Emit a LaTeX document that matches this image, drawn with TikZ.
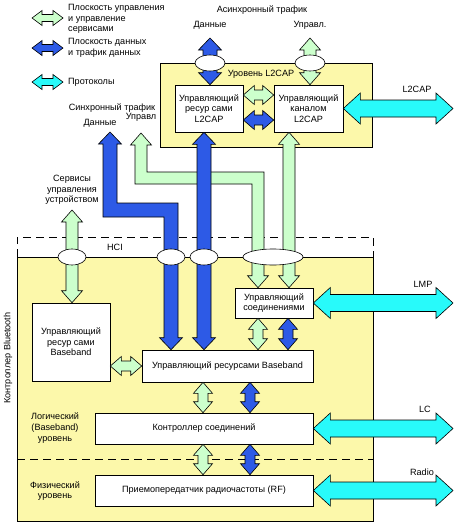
\documentclass[tikz,border=0pt]{standalone}
\usepackage{fontspec}
\setmainfont{Liberation Sans}
\usetikzlibrary{calc,shapes.geometric}

\definecolor{ctrlgreen}{RGB}{204,255,204}
\definecolor{datablue}{RGB}{45,90,230}
\definecolor{protocyan}{RGB}{40,250,250}
\definecolor{layeryellow}{RGB}{252,248,170}

\tikzset{
  fat size/.code args={#1/#2/#3}{\def\fatS{#1}\def\fatH{#2}\def\fatL{#3}},
  fat/.style={draw=black, line width=0.6pt, line join=miter, fat size=7/11.5/12},
  short/.style={fat size=5/9.5/11},
  tiny/.style={fat size=3.5/7.5/10},
  ctrl/.style={fill=ctrlgreen},
  data/.style={fill=datablue},
  proto/.style={fill=protocyan, fat size=8.5/15.5/17},
  box/.style={draw, fill=white, line width=0.6pt, align=center, inner sep=1pt},
  hole/.style={ellipse, draw, fill=white, line width=0.6pt, minimum width=30pt, minimum height=16pt, inner sep=0pt},
  layer/.style={draw, fill=layeryellow, line width=0.6pt},
  lbl/.style={align=center, inner sep=1pt},
  hci/.style={dash pattern=on 8pt off 5pt, line width=0.9pt}
}

% straight double block arrow between two points
\newcommand\fatarrow[3][]{%
  \path[fat,#1] let \p1=(#2), \p2=(#3),
      \n1={atan2(\y2-\y1,\x2-\x1)}, \n2={veclen(\x2-\x1,\y2-\y1)} in
    (\p1) -- ++($(\n1:{\fatL*1pt})+(\n1+90:{\fatH*1pt})$)
    -- ++(\n1-90:{(\fatH-\fatS)*1pt})
    -- ++(\n1:{(\n2-2*\fatL)*1pt})
    -- ++(\n1+90:{(\fatH-\fatS)*1pt})
    -- (\p2)
    -- ++($(\n1+180:{\fatL*1pt})+(\n1-90:{\fatH*1pt})$)
    -- ++(\n1+90:{(\fatH-\fatS)*1pt})
    -- ++(\n1+180:{(\n2-2*\fatL)*1pt})
    -- ++(\n1-90:{(\fatH-\fatS)*1pt})
    -- cycle;}

% down, right, down double block arrow
\newcommand\bentarrow[4][]{%
  \path[fat,#1] let \p1=(#2), \p2=(#3), \p3=(#4) in
    (\p1) -- (\x1+\fatH*1pt,\y1-\fatL*1pt) -- (\x1+\fatS*1pt,\y1-\fatL*1pt)
    -- (\x1+\fatS*1pt,\y2+\fatS*1pt) -- (\x2+\fatS*1pt,\y2+\fatS*1pt)
    -- (\x2+\fatS*1pt,\y3+\fatL*1pt) -- (\x2+\fatH*1pt,\y3+\fatL*1pt)
    -- (\p3)
    -- (\x2-\fatH*1pt,\y3+\fatL*1pt) -- (\x2-\fatS*1pt,\y3+\fatL*1pt)
    -- (\x2-\fatS*1pt,\y2-\fatS*1pt) -- (\x1-\fatS*1pt,\y2-\fatS*1pt)
    -- (\x1-\fatS*1pt,\y1-\fatL*1pt) -- (\x1-\fatH*1pt,\y1-\fatL*1pt)
    -- cycle;}

\begin{document}
\begin{tikzpicture}[x=1pt,y=-1pt,every node/.style={font=\fontsize{9.1}{10.6}\selectfont}]
  \useasboundingbox (0,0) rectangle (457,530);

  % layers
  \draw[layer] (160,63) rectangle (372,147);
  \draw[layer] (17,257) rectangle (373,521);
  \draw[hci] (17,257) -- (17,237) -- (373,237) -- (373,257);
  \draw[hci] (17,459) -- (373,459);

  % blocks
  \node[box, minimum width=68pt, minimum height=47pt] (lres) at (209,108.5) {Управляющий\\ресур сами\\L2CAP};
  \node[box, minimum width=69pt, minimum height=47pt] (lch) at (308.5,108.5) {Управляющий\\каналом\\L2CAP};
  \node[box, minimum width=78pt, minimum height=30pt] (cm) at (274,303) {Управляющий\\соединениями};
  \node[box, minimum width=78pt, minimum height=78pt] (brs) at (71,342) {Управляющий\\ресур сами\\Baseband};
  \node[box, minimum width=171pt, minimum height=32pt] (bb) at (227.5,366) {Управляющий ресурсами Baseband};
  \node[box, minimum width=218pt, minimum height=31pt] (lc) at (204,428.5) {Контроллер соединений};
  \node[box, minimum width=218pt, minimum height=31pt] (rf) at (204,490.5) {Приемопередатчик радиочастоты (RF)};

  % free ends
  \coordinate (atd) at (210,38);
  \coordinate (atc) at (310,38);
  \coordinate (std) at (110,132);
  \coordinate (stdbend) at (171,210);
  \coordinate (stc) at (141,133);
  \coordinate (stcbend) at (258,178);
  \coordinate (dev) at (72,210);
  \coordinate (l2capend) at (453,108.5);
  \coordinate (lmpend) at (453,303);
  \coordinate (lcend) at (453,428.5);
  \coordinate (radioend) at (453,490.5);
  \coordinate (leg1l) at (32,18);  \coordinate (leg1r) at (63,18);
  \coordinate (leg2l) at (32,48);  \coordinate (leg2r) at (63,48);
  \coordinate (leg3l) at (32,82);  \coordinate (leg3r) at (63,82);

  % traffic
  \bentarrow[ctrl,fat size=6/10.5/12]{stc}{stcbend}{stcbend |- cm.north};
  \bentarrow[data]{std}{stdbend}{stdbend |- bb.north};
  \fatarrow[data]{204,0 |- lres.south}{204,0 |- bb.north};
  \fatarrow[ctrl,fat size=6/10.5/12]{289,0 |- lch.south}{289,0 |- cm.north};
  \fatarrow[data]{atd}{atd |- lres.north};
  \fatarrow[ctrl,fat size=6/10.5/12]{atc}{atc |- lch.north};
  \fatarrow[ctrl,fat size=6/10.5/12]{dev}{dev |- brs.north};
  \fatarrow[ctrl,short]{lres.east |- 0,95}{lch.west |- 0,95};
  \fatarrow[data,short]{lres.east |- 0,120}{lch.west |- 0,120};
  \fatarrow[ctrl,short]{brs.east |- 0,366}{bb.west |- 0,366};
  \foreach \ax/\st in {258/ctrl,288/data}
    \fatarrow[\st,short]{\ax,0 |- cm.south}{\ax,0 |- bb.north};
  \foreach \ax/\st in {203/ctrl,250/data} {
    \fatarrow[\st,short]{\ax,0 |- bb.south}{\ax,0 |- lc.north};
    \fatarrow[\st,short]{\ax,0 |- lc.south}{\ax,0 |- rf.north};
  }

  % protocols
  \fatarrow[proto]{lch.east}{l2capend};
  \fatarrow[proto]{cm.east}{lmpend};
  \fatarrow[proto]{lc.east}{lcend};
  \fatarrow[proto]{rf.east}{radioend};

  % legend
  \fatarrow[ctrl,tiny]{leg1l}{leg1r};
  \fatarrow[data,tiny]{leg2l}{leg2r};
  \fatarrow[proto,tiny]{leg3l}{leg3r};
  \node[lbl, anchor=west, align=left] (leg1) at (67,19) {Плоскость управления\\и управление\\сервисами};
  \node[lbl, anchor=west, align=left] (leg2) at (67,48) {Плоскость данных\\и трафик данных};
  \node[lbl, anchor=west, align=left] (leg3) at (67,82) {Протоколы};

  % openings
  \node[hole] (h1) at (210,63) {};
  \node[hole] (h2) at (310,63) {};
  \node[hole, minimum width=28pt] (h3) at (72,257) {};
  \node[hole, minimum width=28pt] (h4) at (171,257) {};
  \node[hole, minimum width=28pt] (h5) at (204,257) {};
  \node[hole, minimum width=60pt] (h6) at (273,257) {};

  % labels
  \node[lbl] (async) at (262,10) {Асинхронный трафик};
  \node[lbl] (asyncd) at (210,25) {Данные};
  \node[lbl] (asyncc) at (310,25) {Управл.};
  \node[lbl] (l2lay) at (261,74) {Уровень L2CAP};
  \node[lbl] (sync) at (112,108) {Синхронный трафик};
  \node[lbl] (syncd) at (100,123) {Данные};
  \node[lbl] (syncc) at (141,117) {Управл};
  \node[lbl] (devl) at (72,190) {Сервисы\\управления\\устройством};
  \node[lbl] (hcil) at (115,247) {HCI};
  \node[lbl, rotate=90] (btc) at (8,358) {Контроллер Bluetooth};
  \node[lbl] (logl) at (55,428) {Логический\\(Baseband)\\уровень};
  \node[lbl] (phyl) at (55,491) {Физический\\уровень};
  \node[lbl] (l2capl) at (417,89) {L2CAP};
  \node[lbl] (lmpl) at (423,284) {LMP};
  \node[lbl] (lcl) at (425,409) {LC};
  \node[lbl] (radiol) at (422,472) {Radio};
\end{tikzpicture}
\end{document}
